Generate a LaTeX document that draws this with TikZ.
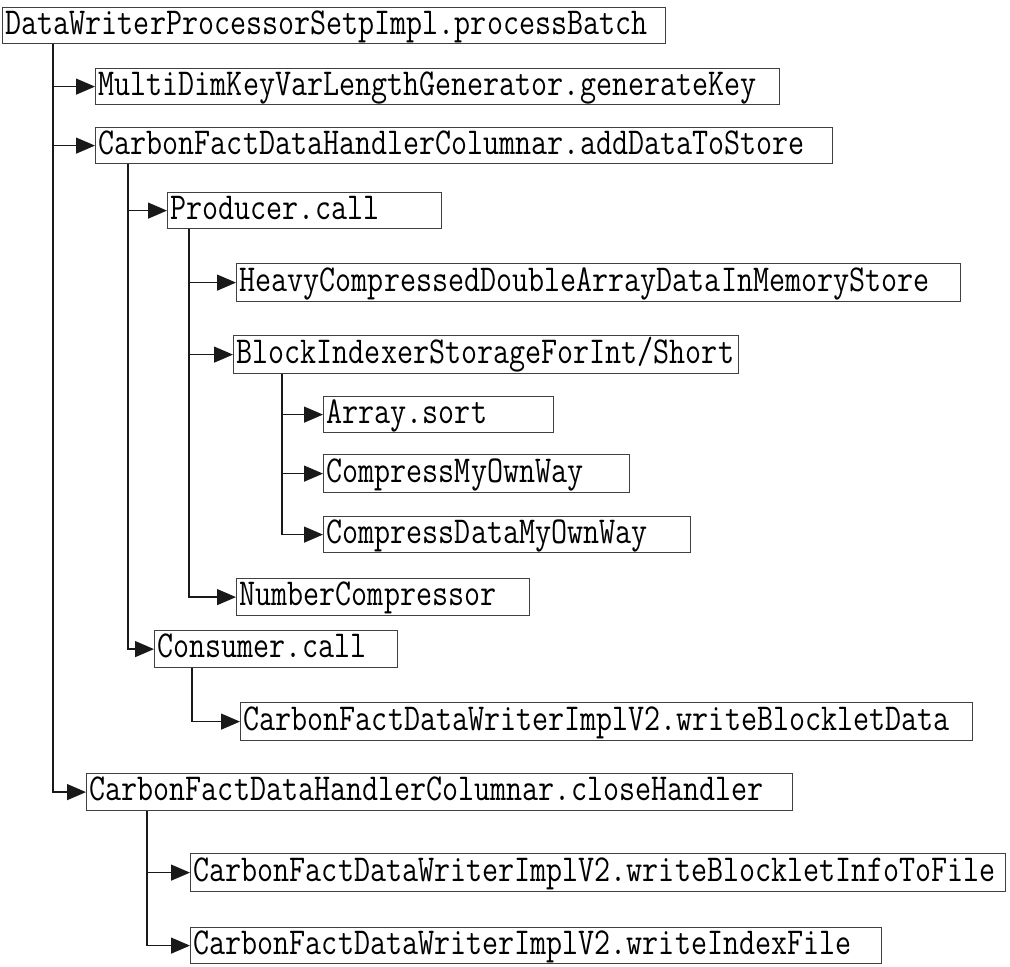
\documentclass[tikz,border=0pt]{standalone}
\usepackage{fontspec}
\usetikzlibrary{arrows.meta}
\newfontfamily\codefont[FakeStretch=0.82]{Latin Modern Mono}
\tikzset{
  box/.style={draw=black!75, line width=1.2pt, anchor=north west, inner xsep=3pt, inner ysep=0pt,
    minimum height=#1, text height=25pt, text depth=8pt, align=left,
    font=\codefont\fontsize{38}{38}\selectfont},
  box/.default=36pt,
  arr/.style={draw=black!90, line width=1.3pt, -{Triangle[length=19pt,width=16pt]}}
}
\begin{document}
\begin{tikzpicture}[x=1pt,y=-1pt]
\useasboundingbox (0,0) rectangle (1010,967);
\node[box, text width=657pt] (root) at (2,7) {DataWriterProcessorSetpImpl.processBatch};
\node[box, text width=678pt] (gen) at (95,68) {MultiDimKeyVarLengthGenerator.generateKey};
\node[box, text width=731pt] (add) at (95,127) {CarbonFactDataHandlerColumnar.addDataToStore};
\node[box, text width=268pt] (prod) at (167,192) {Producer.call};
\node[box, text width=718pt, minimum height=38pt] (heavy) at (236,263) {HeavyCompressedDoubleArrayDataInMemoryStore};
\node[box, text width=499pt, minimum height=38pt] (block) at (233,335) {BlockIndexerStorageForInt/Short};
\node[box, text width=224pt] (sort) at (323,396) {Array.sort};
\node[box, text width=300pt, minimum height=38pt] (comp) at (323,454) {CompressMyOwnWay};
\node[box, text width=361pt] (compd) at (323,516) {CompressDataMyOwnWay};
\node[box, text width=287pt, minimum height=37pt] (num) at (236,578) {NumberCompressor};
\node[box, text width=237pt, minimum height=37pt] (cons) at (154,630) {Consumer.call};
\node[box, text width=726pt, minimum height=38pt] (wbd) at (240,702) {CarbonFactDataWriterImplV2.writeBlockletData};
\node[box, text width=700pt, minimum height=37pt] (close) at (86,773) {CarbonFactDataHandlerColumnar.closeHandler};
\node[box, text width=809pt, minimum height=38pt] (wbi) at (190,853) {CarbonFactDataWriterImplV2.writeBlockletInfoToFile};
\node[box, text width=685pt] (wif) at (190,927) {CarbonFactDataWriterImplV2.writeIndexFile};

\draw[arr] ([xshift=51pt]root.south west) |- (gen.west);
\draw[arr] ([xshift=51pt]root.south west) |- (add.west);
\draw[arr] ([xshift=51pt]root.south west) |- (close.west);
\draw[arr] ([xshift=33pt]add.south west) |- (prod.west);
\draw[arr] ([xshift=33pt]add.south west) |- (cons.west);
\draw[arr] ([xshift=22pt]prod.south west) |- (heavy.west);
\draw[arr] ([xshift=22pt]prod.south west) |- (block.west);
\draw[arr] ([xshift=22pt]prod.south west) |- (num.west);
\draw[arr] ([xshift=49pt]block.south west) |- (sort.west);
\draw[arr] ([xshift=49pt]block.south west) |- (comp.west);
\draw[arr] ([xshift=49pt]block.south west) |- (compd.west);
\draw[arr] ([xshift=38pt]cons.south west) |- (wbd.west);
\draw[arr] ([xshift=61pt]close.south west) |- (wbi.west);
\draw[arr] ([xshift=61pt]close.south west) |- (wif.west);
\end{tikzpicture}
\end{document}
